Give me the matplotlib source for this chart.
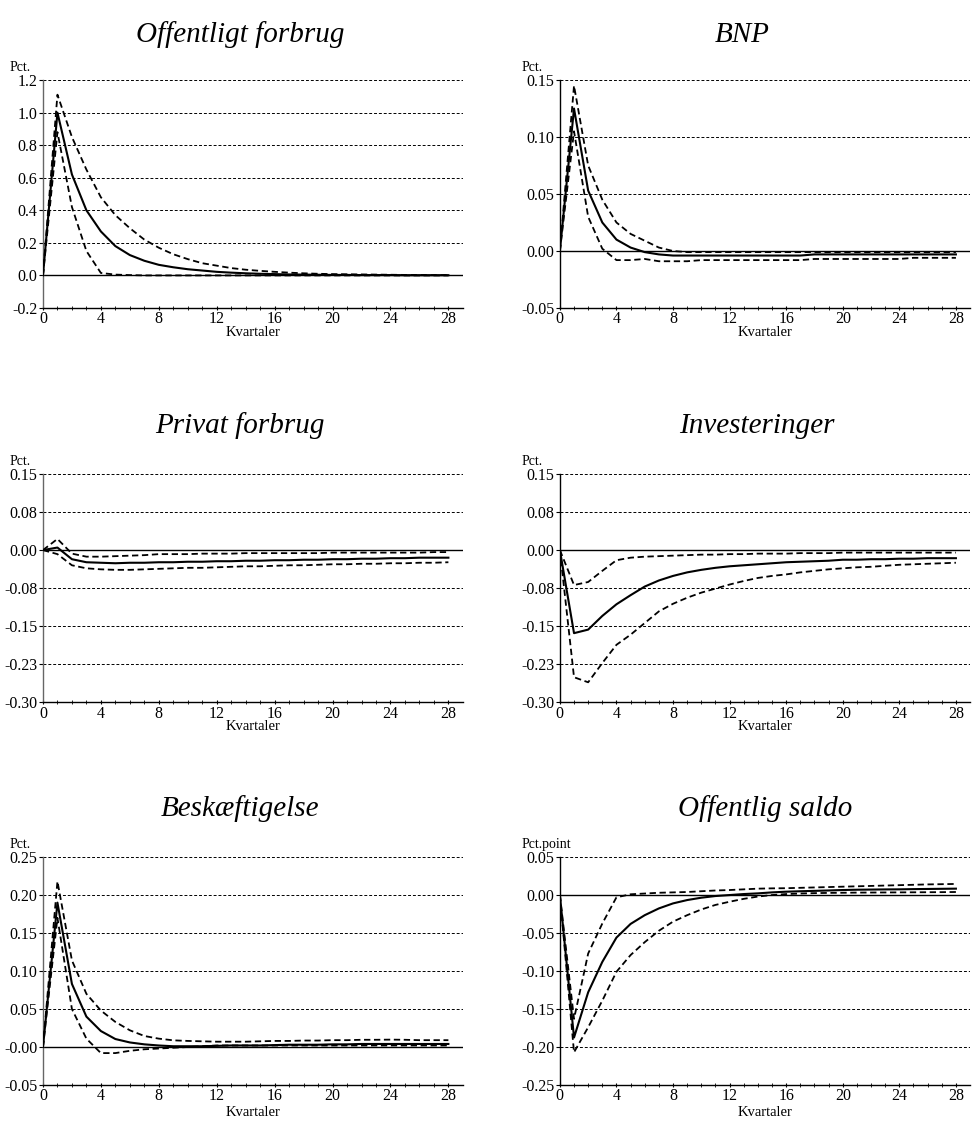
import matplotlib
matplotlib.use("Agg")
import matplotlib.pyplot as plt

plt.rcParams['font.family'] = ['Liberation Serif', 'DejaVu Serif']

quarters = list(range(29))

# Offentligt forbrug
gov_mid = [0, 1.0, 0.62, 0.40, 0.27, 0.18, 0.125, 0.09, 0.065, 0.05, 0.038, 0.03, 0.022, 0.017,
           0.013, 0.01, 0.008, 0.006, 0.005, 0.004, 0.003, 0.003, 0.002, 0.002, 0.002, 0.001, 0.001, 0.001, 0.001]
gov_hi = [0, 1.11, 0.85, 0.65, 0.48, 0.37, 0.29, 0.22, 0.17, 0.13, 0.10, 0.075, 0.06, 0.045,
          0.035, 0.028, 0.022, 0.017, 0.013, 0.01, 0.008, 0.007, 0.006, 0.005, 0.004, 0.003, 0.003, 0.002, 0.002]
gov_lo = [0, 0.88, 0.42, 0.15, 0.015, 0.005, 0.002, 0.0, 0.0, 0.0, 0.0, 0.0, 0.0, 0.0,
          0.0, 0.0, 0.0, 0.0, 0.0, 0.0, 0.0, 0.0, 0.0, 0.0, 0.0, 0.0, 0.0, 0.0, 0.0]

# BNP
gdp_mid = [0, 0.125, 0.053, 0.025, 0.01, 0.003, -0.001, -0.003, -0.004, -0.004, -0.004, -0.004, -0.004, -0.004,
           -0.004, -0.004, -0.004, -0.004, -0.003, -0.003, -0.003, -0.003, -0.003, -0.003, -0.003, -0.003, -0.003, -0.003, -0.003]
gdp_hi = [0, 0.145, 0.075, 0.045, 0.025, 0.015, 0.009, 0.003, 0.0, -0.001, -0.001, -0.001, -0.001, -0.001,
          -0.001, -0.001, -0.001, -0.001, -0.001, -0.001, -0.001, -0.001, -0.001, -0.001, -0.001, -0.001, -0.001, -0.001, -0.001]
gdp_lo = [0, 0.105, 0.03, 0.002, -0.008, -0.008, -0.007, -0.009, -0.009, -0.009, -0.008, -0.008, -0.008, -0.008,
          -0.008, -0.008, -0.008, -0.008, -0.007, -0.007, -0.007, -0.007, -0.007, -0.007, -0.007, -0.006, -0.006, -0.006, -0.006]

# Privat forbrug
cons_mid = [0, 0.005, -0.018, -0.024, -0.025, -0.026, -0.025, -0.025, -0.024, -0.024, -0.023, -0.023, -0.022, -0.022,
            -0.021, -0.021, -0.02, -0.02, -0.019, -0.019, -0.018, -0.018, -0.017, -0.017, -0.016, -0.016, -0.015, -0.015, -0.015]
cons_hi = [0, 0.022, -0.007, -0.013, -0.013, -0.012, -0.011, -0.01, -0.008, -0.008, -0.008, -0.007, -0.007, -0.007,
           -0.006, -0.006, -0.006, -0.006, -0.006, -0.006, -0.005, -0.005, -0.005, -0.005, -0.005, -0.005, -0.005, -0.004, -0.004]
cons_lo = [0, -0.008, -0.03, -0.036, -0.038, -0.039, -0.039, -0.038, -0.037, -0.036, -0.035, -0.035, -0.034, -0.033,
           -0.032, -0.032, -0.031, -0.03, -0.03, -0.029, -0.028, -0.028, -0.027, -0.027, -0.026, -0.026, -0.025, -0.025, -0.024]

# Investeringer
inv_mid = [0, -0.164, -0.157, -0.130, -0.107, -0.089, -0.072, -0.060, -0.051, -0.044, -0.039, -0.035, -0.032, -0.030,
           -0.028, -0.026, -0.024, -0.023, -0.022, -0.021, -0.019, -0.019, -0.018, -0.018, -0.017, -0.017, -0.016, -0.016, -0.016]
inv_hi = [0, -0.069, -0.063, -0.041, -0.020, -0.015, -0.013, -0.012, -0.011, -0.010, -0.009, -0.009, -0.008, -0.008,
          -0.007, -0.007, -0.007, -0.006, -0.006, -0.006, -0.005, -0.005, -0.005, -0.005, -0.005, -0.005, -0.005, -0.005, -0.005]
inv_lo = [0, -0.251, -0.261, -0.223, -0.187, -0.167, -0.144, -0.121, -0.106, -0.094, -0.084, -0.076, -0.068, -0.061,
          -0.055, -0.051, -0.048, -0.044, -0.041, -0.038, -0.036, -0.034, -0.033, -0.031, -0.029, -0.028, -0.027, -0.026, -0.025]

# Beskæftigelse
emp_mid = [0, 0.19, 0.083, 0.040, 0.021, 0.0105, 0.006, 0.0035, 0.002, 0.001, 0.001, 0.001, 0.0015, 0.002,
           0.002, 0.002, 0.0025, 0.003, 0.003, 0.003, 0.0035, 0.0035, 0.004, 0.004, 0.004, 0.004, 0.004, 0.004, 0.004]
emp_hi = [0, 0.218, 0.114, 0.070, 0.048, 0.033, 0.022, 0.0145, 0.011, 0.0088, 0.008, 0.0075, 0.007, 0.007,
          0.007, 0.0075, 0.008, 0.008, 0.0085, 0.0085, 0.009, 0.009, 0.0095, 0.0095, 0.0097, 0.0095, 0.009, 0.009, 0.009]
emp_lo = [0, 0.17, 0.05, 0.011, -0.008, -0.008, -0.005, -0.003, -0.002, -0.001, 0.0, 0.001, 0.002, 0.002,
          0.002, 0.002, 0.002, 0.002, 0.002, 0.002, 0.002, 0.002, 0.002, 0.002, 0.002, 0.002, 0.002, 0.002, 0.002]

# Offentlig saldo
bal_mid = [0, -0.1875, -0.128, -0.088, -0.056, -0.038, -0.0265, -0.0176, -0.011, -0.0066, -0.0035, -0.0013, 0.0, 0.0013,
           0.0022, 0.0035, 0.0044, 0.005, 0.0055, 0.006, 0.0066, 0.007, 0.0072, 0.0074, 0.0075, 0.0078, 0.008, 0.0082, 0.0084]
bal_hi = [0, -0.163, -0.077, -0.0375, -0.003, 0.001, 0.002, 0.003, 0.0035, 0.004, 0.005, 0.006, 0.0066, 0.0075,
          0.0084, 0.0088, 0.009, 0.0095, 0.01, 0.0105, 0.011, 0.0115, 0.012, 0.0125, 0.013, 0.0135, 0.014, 0.0143, 0.0146]
bal_lo = [0, -0.207, -0.174, -0.139, -0.101, -0.079, -0.062, -0.047, -0.035, -0.0265, -0.019, -0.013, -0.0088, -0.005,
          -0.002, 0.0, 0.0013, 0.002, 0.0025, 0.0028, 0.003, 0.0032, 0.0033, 0.0034, 0.0035, 0.0036, 0.0037, 0.0038, 0.004]

titles = ["Offentligt forbrug", "BNP", "Privat forbrug", "Investeringer", "Beskæftigelse", "Offentlig saldo"]
units = ["Pct.", "Pct.", "Pct.", "Pct.", "Pct.", "Pct.point"]
series = [(gov_mid, gov_hi, gov_lo), (gdp_mid, gdp_hi, gdp_lo), (cons_mid, cons_hi, cons_lo),
          (inv_mid, inv_hi, inv_lo), (emp_mid, emp_hi, emp_lo), (bal_mid, bal_hi, bal_lo)]
yticks = [
    [-0.2, 0.0, 0.2, 0.4, 0.6, 0.8, 1.0, 1.2],
    [-0.05, 0.0, 0.05, 0.10, 0.15],
    [-0.30, -0.225, -0.15, -0.075, 0.0, 0.075, 0.15],
    [-0.30, -0.225, -0.15, -0.075, 0.0, 0.075, 0.15],
    [-0.05, 0.0, 0.05, 0.10, 0.15, 0.20, 0.25],
    [-0.25, -0.20, -0.15, -0.10, -0.05, 0.0, 0.05],
]
ytick_labels = [
    ["-0.2", "0.0", "0.2", "0.4", "0.6", "0.8", "1.0", "1.2"],
    ["-0.05", "0.00", "0.05", "0.10", "0.15"],
    ["-0.30", "-0.23", "-0.15", "-0.08", "0.00", "0.08", "0.15"],
    ["-0.30", "-0.23", "-0.15", "-0.08", "0.00", "0.08", "0.15"],
    ["-0.05", "-0.00", "0.05", "0.10", "0.15", "0.20", "0.25"],
    ["-0.25", "-0.20", "-0.15", "-0.10", "-0.05", "0.00", "0.05"],
]

fig = plt.figure(figsize=(9.72, 11.24), dpi=100)

lefts = [0.0442, 0.576]
widths = [0.432, 0.422]
bottoms = [0.726, 0.3754, 0.0347]
height = 0.2028
title_y = [0.969, 0.621, 0.281]
title_x = [240 / 972, 742 / 972, 240 / 972, 757 / 972, 240 / 972, 765 / 972]
unit_x = [10 / 972, 522 / 972]
xlabel_pad = [-1, -1, 1]

for i in range(6):
    row, col = divmod(i, 2)
    ax = fig.add_axes([lefts[col], bottoms[row], widths[col], height])
    mid, hi, lo = series[i]
    ticks = yticks[i]

    for t in ticks:
        if t != 0.0:
            ax.axhline(t, color="black", lw=0.7, ls=(0, (3, 2)), zorder=1)
    ax.axhline(0, color="black", lw=1.0, zorder=2)

    ax.plot(quarters, hi, color="black", lw=1.3, ls=(0, (3.5, 2)), zorder=3)
    ax.plot(quarters, lo, color="black", lw=1.3, ls=(0, (3.5, 2)), zorder=3)
    ax.plot(quarters, mid, color="black", lw=1.5, zorder=4)

    ax.set_xlim(0, 29)
    ax.set_ylim(ticks[0], ticks[-1])
    ax.set_yticks(ticks)
    ax.set_yticklabels(ytick_labels[i])
    ax.set_xticks(range(0, 29, 4))
    ax.set_xticks(range(0, 29), minor=True)
    ax.tick_params(axis="both", labelsize=11.5, length=3, width=0.8, pad=1)
    ax.tick_params(axis="x", which="both", direction="inout")
    ax.tick_params(axis="x", which="minor", length=2.5)

    for side in ["top", "right"]:
        ax.spines[side].set_visible(False)
    ax.spines["left"].set_color("#666666" if col == 0 else "black")
    ax.spines["left"].set_linewidth(1.0)
    ax.spines["bottom"].set_linewidth(1.0)

    top_px = (1 - bottoms[row] - height) * 1124
    fig.text(unit_x[col], 1 - (top_px - 6) / 1124, units[i], ha="left", va="bottom", fontsize=10)
    ax.set_xlabel("Kvartaler", fontsize=10.5, labelpad=xlabel_pad[row])

    fig.text(title_x[i], title_y[row], titles[i], ha="center", va="center", fontsize=21, style="italic")

fig.savefig("out.png", dpi=100)
